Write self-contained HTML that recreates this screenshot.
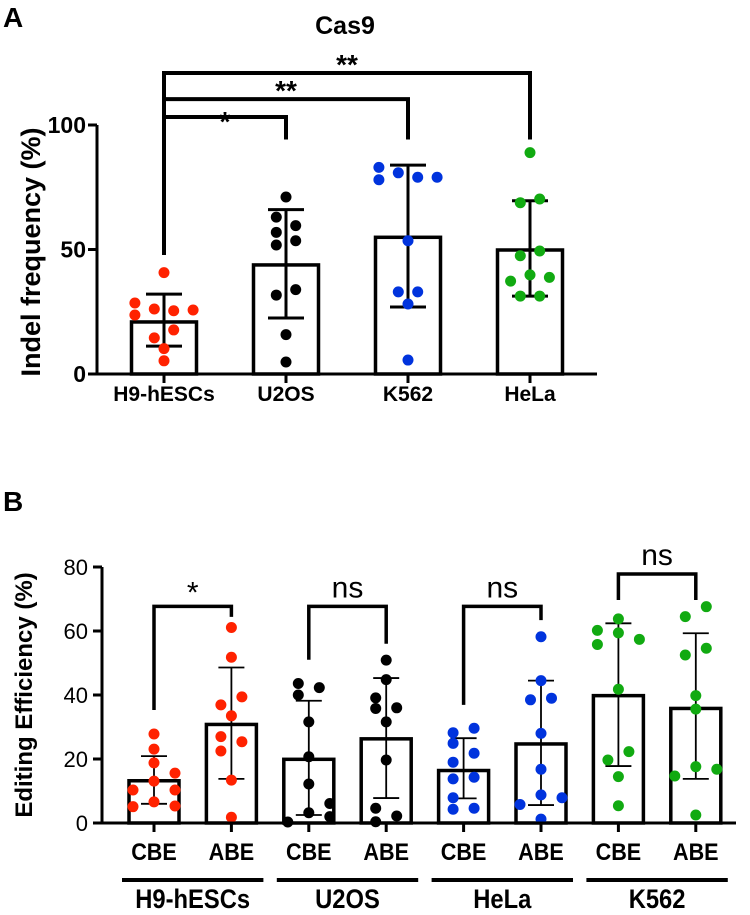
<!DOCTYPE html>
<html><head><meta charset="utf-8">
<style>
html,body{margin:0;padding:0;background:#fff;}
svg{display:block;font-family:"Liberation Sans",Arial,sans-serif;}
</style></head>
<body>
<svg id="fig" width="750" height="915" viewBox="0 0 750 915">
  <text x="3" y="27" font-size="28" font-weight="bold">A</text>
  <text x="345" y="34" font-size="25" font-weight="bold" text-anchor="middle">Cas9</text>
  <text transform="translate(40,252) rotate(-90)" font-size="27" font-weight="bold" text-anchor="middle">Indel frequency (%)</text>
  <g id="chartA"></g>
  <text x="3" y="511" font-size="28" font-weight="bold">B</text>
  <text transform="translate(32,695) rotate(-90)" font-size="24" font-weight="bold" text-anchor="middle">Editing Efficiency (%)</text>
  <g id="chartB"></g>
</svg>
<script>
// ---------- Panel A data ----------
const catsA = ["H9-hESCs","U2OS","K562","HeLa"];
const colorsA = ["#ff2200","#000000","#0033dd","#11aa11"];
const meansA = [20.9,43.8,54.9,49.8];
const errHiA = [32.1,66,83.9,69.6];
const errLoA = [11.2,22.5,26.9,31.3];
const ptsA0 = [28.5,23.7,26.1,40.7,25.4,25.7,17.7,14.5,10.2,5.3];
const slotA0 = [-3,-3,-1,0,1,3,1,-1,0,0];
const ptsA1 = [71.1,63,59.6,56.9,53.5,51.8,31.7,33.9,15.8,4.8];
const slotA1 = [0,-1,1,-1,1,-1,-1,1,0,0];
const ptsA2 = [83,78,80.8,79,79,53.5,33,33,28.1,5.6];
const slotA2 = [-3,-3,-1,1,3,0,-1,1,0,0];
const ptsA3 = [88.9,68.8,70.3,47.5,49.4,39.8,37.3,38.8,31.3,31.3];
const slotA3 = [0,-1,1,-1,1,0,-2,2,-1,1];
const ticksA = [0,50,100];
const sigA = ["*","**","**"];
const sigTopA = [103.2,110.4,120.9];

// ---------- Panel B data ----------
const barsB = ["CBE","ABE","CBE","ABE","CBE","ABE","CBE","ABE"];
const groupsB = ["H9-hESCs","U2OS","HeLa","K562"];
const colorsB = ["#ff2200","#000000","#0033dd","#11aa11"];
const meansB = [13.2,30.8,19.9,26.3,16.4,24.7,39.8,35.8];
const errHiB = [20.9,48.6,38.2,45.3,26.5,44.5,62.4,59.3];
const errLoB = [6.0,13.8,2.5,7.8,7.7,5.6,17.8,13.8];
const ptsB0 = [27.8,23.1,18.8,15.6,13.1,10.3,10.3,6.6,5.1,5.3];
const slotB0 = [0,0,0,2,0,-2,2,0,-2,2];
const ptsB1 = [61.1,51.8,39.4,36.9,33.5,27,25.4,22.5,13.4,1.8];
const slotB1 = [0,0,1,-1,0,-1,1,-1,0,0];
const ptsB2 = [43.6,42.3,40,31.6,20.7,12.2,3.2,6.1,2,0.3];
const slotB2 = [-1,1,-1,0,0,0,0,2,2,-2];
const ptsB3 = [50.9,44.8,39.1,35.8,36,31.6,19.7,4.6,2.2,0.4];
const slotB3 = [0,0,-1,-1,1,0,0,-1,1,-1];
const ptsB4 = [28.2,29.6,24.9,21.8,19,14.3,13.8,7.9,4.6,4.3];
const slotB4 = [-1,1,-1,1,-1,1,-1,-1,1,-1];
const ptsB5 = [58.2,44.5,38.5,39,28,16.8,8.8,5.8,7.9,1.2];
const slotB5 = [0,0,-1,1,0,0,0,-2,2,0];
const ptsB6 = [63.8,60.2,59.4,57.4,55.8,41.8,22.3,19.7,14.5,5.4];
const slotB6 = [0,-2,0,2,-2,0,1,-1,0,0];
const ptsB7 = [67.6,64.5,54.6,52.5,39.8,35.6,17.6,14.7,16.8,2.5];
const slotB7 = [1,-1,1,-1,0,0,0,-2,2,0];
const ticksB = [0,20,40,60,80];
const sigB = ["*","ns","ns","ns"];
const sigTopB = [67.7,67.7,67.7,77.8];
const legLeftB = [35.3,51,36.9,69.7];
const legRightB = [64.4,56,63.4,69.7];

const NS = "http://www.w3.org/2000/svg";
function mk(parent, tag, attrs){
  const e = document.createElementNS(NS, tag);
  for (const k in attrs) e.setAttribute(k, attrs[k]);
  parent.appendChild(e);
  return e;
}

// ---------- Panel A ----------
(function(){
  const g = document.getElementById("chartA");
  const yA = v => 374 - v*2.49;
  const xA = i => 164 + i*122;
  const bw = 65;
  const ptsA = [ptsA0,ptsA1,ptsA2,ptsA3];
  const slotsA = [slotA0,slotA1,slotA2,slotA3];
  catsA.forEach((c,i)=>{
    const cx = xA(i);
    const bar = mk(g,"rect",{x:cx-bw/2,y:yA(meansA[i]),width:bw,height:yA(0)-yA(meansA[i]),fill:"#fff",stroke:"#000","stroke-width":3.5});
    
    
    const eb = mk(g,"path",{d:`M${cx},${yA(errHiA[i])}V${yA(errLoA[i])}M${cx-18},${yA(errHiA[i])}H${cx+18}M${cx-18},${yA(errLoA[i])}H${cx+18}`,stroke:"#000","stroke-width":3,fill:"none"});
    
    
    ptsA[i].forEach((v,j)=>{
      const p = mk(g,"circle",{cx:cx+slotsA[i][j]*9.7,cy:yA(v),r:5.5,fill:colorsA[i]});
      
      
    });
    const tk = mk(g,"line",{x1:cx,x2:cx,y1:374,y2:383,stroke:"#000","stroke-width":3});
    
    
    const lb = mk(g,"text",{x:cx,y:401,"font-size":21,"font-weight":"bold","text-anchor":"middle"});
    lb.textContent = c;
    
    
  });
  ticksA.forEach(t=>{
    const tk = mk(g,"line",{x1:88,x2:97,y1:yA(t),y2:yA(t),stroke:"#000","stroke-width":3});
    
    
    const lb = mk(g,"text",{x:86,y:yA(t)+8,"font-size":23,"font-weight":"bold","text-anchor":"end"});
    lb.textContent = t;
    
    
  });
  const ax = mk(g,"path",{d:`M97,${yA(100)}V374H597`,stroke:"#000","stroke-width":3,fill:"none"});
  
  
  sigA.forEach((s,k)=>{
    const x1 = xA(0), x2 = xA(k+1), yt = yA(sigTopA[k]);
    const br = mk(g,"path",{d:`M${x1},${yA(47.8)}V${yt}H${x2}V${yA(94.2)}`,stroke:"#000","stroke-width":4,fill:"none"});
    
    
    const lb = mk(g,"text",{x:(x1+x2)/2,y:yt+(k===0?14:1),"font-size":28,"font-weight":"bold","text-anchor":"middle"});
    lb.textContent = s;
    
    
  });
})();

// ---------- Panel B ----------
(function(){
  const g = document.getElementById("chartB");
  const yB = v => 823 - v*3.2;
  const xB = i => 154 + i*77.4;
  const bw = 50;
  const ptsB = [ptsB0,ptsB1,ptsB2,ptsB3,ptsB4,ptsB5,ptsB6,ptsB7];
  const slotsB = [slotB0,slotB1,slotB2,slotB3,slotB4,slotB5,slotB6,slotB7];
  barsB.forEach((c,i)=>{
    const cx = xB(i);
    const col = colorsB[Math.floor(i/2)];
    const bar = mk(g,"rect",{x:cx-bw/2,y:yB(meansB[i]),width:bw,height:yB(0)-yB(meansB[i]),fill:"#fff",stroke:"#000","stroke-width":3.5});
    
    
    const eb = mk(g,"path",{d:`M${cx},${yB(errHiB[i])}V${yB(errLoB[i])}M${cx-13},${yB(errHiB[i])}H${cx+13}M${cx-13},${yB(errLoB[i])}H${cx+13}`,stroke:"#000","stroke-width":1.8,fill:"none"});
    
    
    ptsB[i].forEach((v,j)=>{
      const p = mk(g,"circle",{cx:cx+slotsB[i][j]*10.5,cy:yB(v),r:5.5,fill:col});
      
      
    });
    const tk = mk(g,"line",{x1:cx,x2:cx,y1:823,y2:832,stroke:"#000","stroke-width":3});
    
    
    const lb = mk(g,"text",{x:cx,y:860,"font-size":24,"font-weight":"bold","text-anchor":"middle",transform:`translate(${cx},0) scale(0.9,1) translate(${-cx},0)`});
    lb.textContent = c;
    
    
  });
  groupsB.forEach((gname,k)=>{
    const x1 = xB(2*k)-32, x2 = xB(2*k+1)+32;
    const ln = mk(g,"line",{x1:x1,x2:x2,y1:880,y2:880,stroke:"#000","stroke-width":4});
    
    
    const cx = (x1+x2)/2;
    const lb = mk(g,"text",{x:cx,y:908,"font-size":27,"font-weight":"bold","text-anchor":"middle",transform:`translate(${cx},0) scale(0.88,1) translate(${-cx},0)`});
    lb.textContent = gname;
    
    
  });
  ticksB.forEach(t=>{
    const tk = mk(g,"line",{x1:93,x2:102,y1:yB(t),y2:yB(t),stroke:"#000","stroke-width":3});
    
    
    const lb = mk(g,"text",{x:88,y:yB(t)+8,"font-size":22,"text-anchor":"end"});
    lb.textContent = t;
    
    
  });
  const ax = mk(g,"path",{d:`M102,${yB(80)}V823H736`,stroke:"#000","stroke-width":3,fill:"none"});
  
  
  sigB.forEach((s,k)=>{
    const x1 = xB(2*k), x2 = xB(2*k+1), yt = yB(sigTopB[k]);
    const br = mk(g,"path",{d:`M${x1},${yB(legLeftB[k])}V${yt}H${x2}V${yB(legRightB[k])}`,stroke:"#000","stroke-width":3.5,fill:"none"});
    
    
    const lb = mk(g,"text",{x:(x1+x2)/2,y:s==="*"?yt-4:yt-9,"font-size":s==="*"?30:30,"text-anchor":"middle"});
    lb.textContent = s;
    
    
  });
})();
</script>
</body></html>
